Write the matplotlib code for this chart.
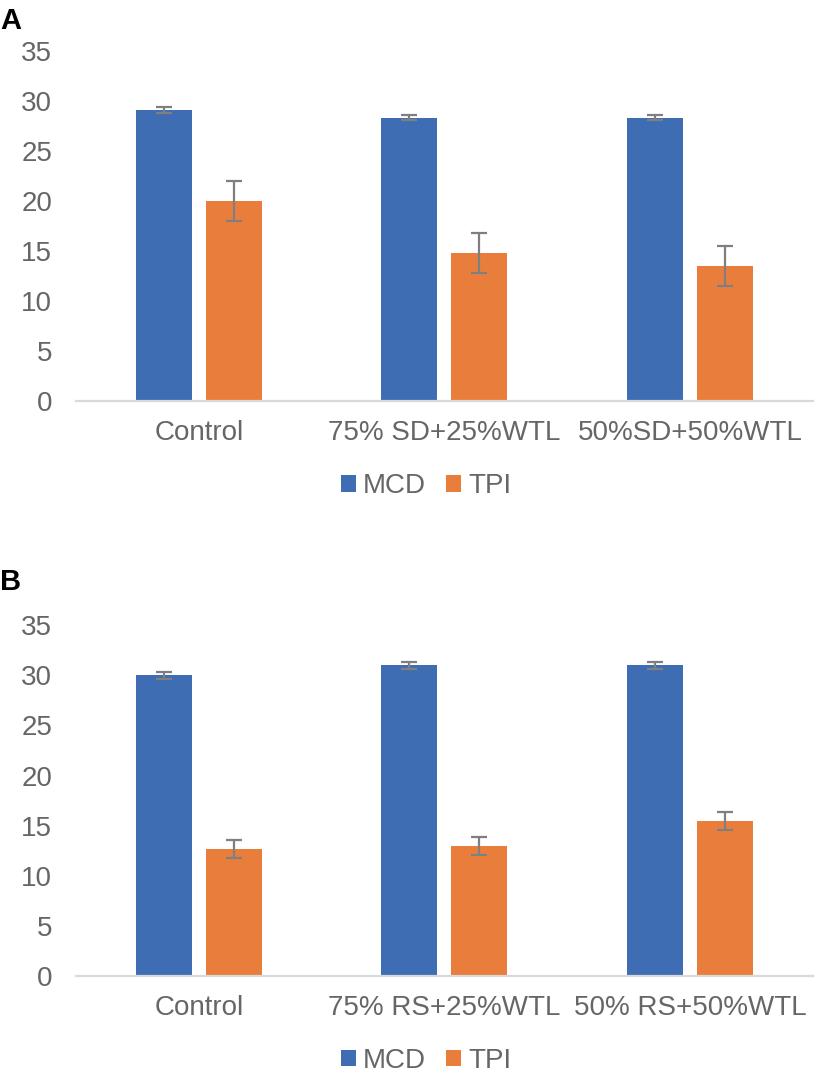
import numpy as np
import matplotlib.pyplot as plt

plt.rcParams['font.family'] = ['Liberation Sans', 'DejaVu Sans']

# Panel A data
cats_a = ['Control', '75% SD+25%WTL', '50%SD+50%WTL']
mcd_a = [29.1, 28.3, 28.3]
mcd_a_err = [0.3, 0.25, 0.25]
tpi_a = [20.0, 14.8, 13.5]
tpi_a_err = [2.0, 2.0, 2.0]

# Panel B data
cats_b = ['Control', '75% RS+25%WTL', '50% RS+50%WTL']
mcd_b = [30.0, 31.0, 31.0]
mcd_b_err = [0.35, 0.35, 0.35]
tpi_b = [12.7, 13.0, 15.5]
tpi_b_err = [0.9, 0.9, 0.9]

blue = '#3E6DB3'
orange = '#E97E3C'
grey_txt = '#666666'
err_col = '#7F7F7F'


def draw_panel(ax, cats, mcd, mcd_err, tpi, tpi_err, letter, letter_y):
    x = np.arange(len(cats))
    w = 0.228
    off = 0.1426
    ekw = dict(ecolor=err_col, elinewidth=1.6, capsize=5.5, capthick=1.6)
    ax.bar(x - off, mcd, w, yerr=mcd_err, color=blue, label='MCD', error_kw=ekw)
    ax.bar(x + off, tpi, w, yerr=tpi_err, color=orange, label='TPI', error_kw=ekw)

    ax.set_xlim(-0.5, len(cats) - 0.5)
    ax.set_ylim(0, 35)
    ax.set_yticks(np.arange(0, 36, 5))
    ax.set_xticks(x)
    ax.set_xticklabels(cats)
    for s in ['top', 'right', 'left']:
        ax.spines[s].set_visible(False)
    ax.spines['bottom'].set_color('#D9D9D9')
    ax.spines['bottom'].set_linewidth(1.6)
    ax.tick_params(axis='y', length=0, pad=17, labelsize=20, labelcolor=grey_txt)
    ax.tick_params(axis='x', length=0, pad=14, labelsize=20, labelcolor=grey_txt)

    leg = ax.legend(loc='center', bbox_to_anchor=(0.475, -0.243), ncol=2,
                    frameon=False, fontsize=20, handlelength=0.55,
                    handleheight=0.55, handletextpad=0.25, columnspacing=0.7)
    for t in leg.get_texts():
        t.set_color(grey_txt)

    # panel letter, flush with the left edge of the figure
    ax.text(-0.103, letter_y, letter, transform=ax.transAxes, fontsize=21,
            fontweight='bold', color='black', ha='left', va='baseline')


fig = plt.figure(figsize=(8.17, 10.79), dpi=100)
ax_a = fig.add_axes([0.093, 0.6284, 0.902, 0.3244])
ax_b = fig.add_axes([0.093, 0.0957, 0.902, 0.3247])

draw_panel(ax_a, cats_a, mcd_a, mcd_a_err, tpi_a, tpi_a_err, 'A', 1.063)
draw_panel(ax_b, cats_b, mcd_b, mcd_b_err, tpi_b, tpi_b_err, 'B', 1.10)

fig.savefig('out.png', dpi=100)
